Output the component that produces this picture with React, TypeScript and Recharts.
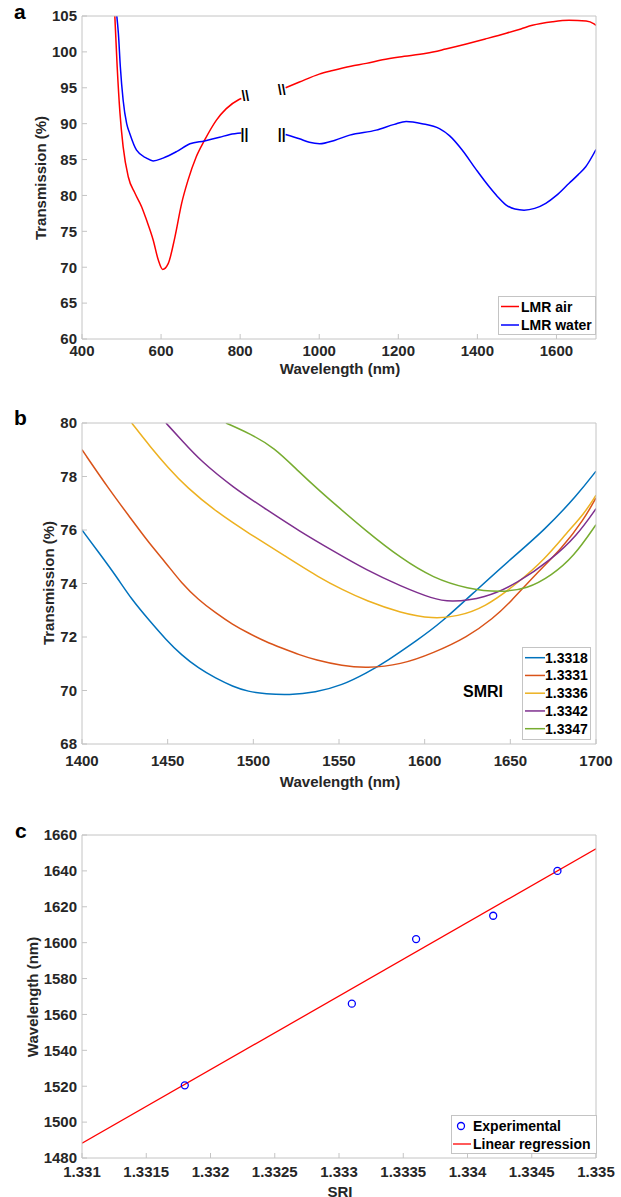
import React from 'react'
import { LineChart, ComposedChart, Line, Scatter, XAxis, YAxis, ReferenceDot } from 'recharts'

const FONT = '"Liberation Sans", Arial, Helvetica, sans-serif'
const INK = '#262626'
const FRAME = '#c4c4c4'

// ---- panel a: LMR spectra, wavelength (nm) vs transmission (%)
const aXTicks = [400, 600, 800, 1000, 1200, 1400, 1600]
const aYTicks = [60, 65, 70, 75, 80, 85, 90, 95, 100, 105]
const aNames = ['LMR air', 'LMR water']
const aColors = ['#ff0000', '#0000ff']

const airBelow900 = [
  [483, 105], [489, 97.9], [496, 91.5], [504, 86.8], [517, 82.6], [534, 80.3], [551, 78.4],
  [563, 76.6], [580, 73.8], [593, 71], [604, 69.7], [618, 70.5], [635, 74.2], [652, 78.9],
  [668, 82.1], [689, 85.4], [710, 87.7], [740, 90.5], [765, 92.1], [795, 93.3], [803, 93.5],
]
const airAbove900 = [
  [915, 95], [950, 95.8], [1000, 96.9], [1034, 97.4], [1080, 98], [1119, 98.4], [1160, 98.9],
  [1203, 99.3], [1271, 99.8], [1320, 100.4], [1372, 101.1], [1420, 101.8], [1473, 102.6],
  [1510, 103.2], [1539, 103.7], [1590, 104.2], [1632, 104.4], [1675, 104.3], [1695, 103.9],
  [1700, 103.7],
]
const waterBelow900 = [
  [488, 105], [492, 102.6], [497, 97.9], [504, 93.3], [513, 90], [521, 88.6], [538, 86.3],
  [563, 85.2], [580, 84.8], [605, 85.2], [639, 86.1], [673, 87.2], [710, 87.6], [748, 88.1],
  [774, 88.5], [803, 88.7],
]
const waterAbove900 = [
  [915, 88.5], [950, 87.9], [975, 87.4], [1001, 87.2], [1040, 87.7], [1077, 88.4], [1144, 89.1],
  [1190, 89.9], [1220, 90.3], [1260, 90], [1304, 89.3], [1330, 88.3], [1362, 86.3], [1397, 83.6],
  [1430, 81.2], [1450, 79.9], [1472, 78.7], [1495, 78.1], [1518, 77.95], [1545, 78.2],
  [1573, 78.9], [1600, 80], [1632, 81.7], [1655, 82.9], [1674, 84], [1700, 86.4],
]
// axis-break marks drawn on the curves
const breakMarks = [
  { x: 813, y: 93.8, text: '\\\\' },
  { x: 905, y: 94.7, text: '\\\\' },
  { x: 811, y: 88.6, text: '||' },
  { x: 905, y: 88.5, text: '||' },
]

// ---- panel b: spectra for each SMRI
const bXTicks = [1400, 1450, 1500, 1550, 1600, 1650, 1700]
const bYTicks = [68, 70, 72, 74, 76, 78, 80]
const bNames = ['1.3318', '1.3331', '1.3336', '1.3342', '1.3347']
const bColors = ['#0072bd', '#d95319', '#edb120', '#7e2f8e', '#77ac30']
const ri13318 = [
  [1400, 76], [1410, 75.14], [1420, 74.27], [1429, 73.4], [1439, 72.64], [1449, 71.9],
  [1458, 71.33], [1468, 70.83], [1478, 70.46], [1488, 70.15], [1497, 69.96], [1507, 69.87],
  [1521, 69.83], [1536, 69.92], [1552, 70.2], [1566, 70.65], [1578, 71.1], [1596, 71.9],
  [1609, 72.5], [1631, 73.8], [1650, 74.9], [1670, 76], [1689, 77.3], [1700, 78.2],
]
const ri13331 = [
  [1400, 79], [1416, 77.5], [1429, 76.39], [1439, 75.52], [1449, 74.77], [1458, 74.02],
  [1468, 73.39], [1478, 72.9], [1488, 72.46], [1497, 72.15], [1507, 71.83], [1517, 71.58],
  [1527, 71.33], [1536, 71.15], [1552, 70.92], [1566, 70.84], [1586, 70.96], [1605, 71.4],
  [1625, 72], [1640, 72.7], [1650, 73.3], [1664, 74.3], [1680, 75.3], [1693, 76.4], [1700, 77.2],
]
const ri13336 = [
  [1429, 80], [1440, 79.1], [1450, 78.35], [1461, 77.6], [1479, 76.65], [1498, 75.85],
  [1518, 75.05], [1539, 74.2], [1552, 73.77], [1566, 73.35], [1586, 72.9], [1605, 72.67],
  [1619, 72.77], [1635, 73.1], [1654, 74], [1670, 74.9], [1683, 75.9], [1693, 76.6], [1700, 77.3],
]
const ri13342 = [
  [1449, 80], [1459, 79.3], [1469, 78.6], [1488, 77.6], [1508, 76.75], [1527, 75.95],
  [1547, 75.2], [1566, 74.5], [1586, 73.9], [1605, 73.42], [1615, 73.3], [1635, 73.45],
  [1654, 74], [1674, 74.9], [1689, 75.8], [1700, 76.8],
]
const ri13347 = [
  [1484, 80], [1498, 79.6], [1512, 79.1], [1527, 78.15], [1539, 77.45], [1547, 77],
  [1566, 75.95], [1586, 74.95], [1605, 74.2], [1625, 73.8], [1644, 73.67], [1660, 73.8],
  [1674, 74.3], [1687, 75], [1700, 76.2],
]
const bSeries = [ri13318, ri13331, ri13336, ri13342, ri13347]

// ---- panel c: resonance wavelength vs SRI
const cXTicks = [1.331, 1.3315, 1.332, 1.3325, 1.333, 1.3335, 1.334, 1.3345, 1.335]
const cYTicks = [1480, 1500, 1520, 1540, 1560, 1580, 1600, 1620, 1640, 1660]
const sri = [1.3318, 1.3331, 1.3336, 1.3342, 1.3347]
const dipWavelength = [1520.5, 1566, 1602, 1615, 1640]
const fitLine = [[1.331, 1488.2], [1.335, 1652.3]]

const pts = (arr: number[][]) => arr.map(([x, y]) => ({ x, y }))

const TICK = { fill: INK, fontSize: 15, fontWeight: 700, fontFamily: FONT }
const LINE = { stroke: FRAME, strokeWidth: 1 }

function frame(xDomain: number[], xTicks: number[], yDomain: number[], yTicks: number[], xGap: number) {
  return [
    <XAxis key="xb" type="number" dataKey="x" domain={xDomain} ticks={xTicks} interval={0}
      allowDataOverflow height={31} axisLine={LINE} tickLine={LINE} tickSize={-5}
      tickMargin={xGap} tick={TICK} />,
    <XAxis key="xt" xAxisId="top" orientation="top" type="number" dataKey="x" domain={xDomain}
      ticks={xTicks} interval={0} allowDataOverflow height={1} axisLine={LINE} tickLine={LINE}
      tickSize={-5} tick={false} />,
    <YAxis key="yl" type="number" domain={yDomain} ticks={yTicks} interval={0} allowDataOverflow
      width={60} axisLine={LINE} tickLine={LINE} tickSize={-5} tickMargin={10} tick={TICK} />,
    <YAxis key="yr" yAxisId="right" orientation="right" type="number" domain={yDomain}
      ticks={yTicks} interval={0} allowDataOverflow width={1} axisLine={LINE} tickLine={LINE}
      tickSize={-5} tick={false} />,
  ]
}

const txt = { fill: INK, fontFamily: FONT, fontWeight: 700 } as const

function Overlay() {
  return (
    <svg width={621} height={1197} style={{ position: 'absolute', left: 0, top: 0, pointerEvents: 'none' }}>
      {/* panel letters */}
      <text x={14} y={19} fontSize={21} {...txt} fill="#000">a</text>
      <text x={14} y={425} fontSize={21} {...txt} fill="#000">b</text>
      <text x={15} y={838} fontSize={21} {...txt} fill="#000">c</text>

      {/* axis titles */}
      <text x={340} y={374} fontSize={15} textAnchor="middle" {...txt}>Wavelength (nm)</text>
      <text x={40} y={178} fontSize={15} textAnchor="middle" dominantBaseline="central"
        transform="rotate(-90 40 178)" {...txt}>Transmission (%)</text>
      <text x={340} y={787} fontSize={15} textAnchor="middle" {...txt}>Wavelength (nm)</text>
      <text x={48} y={583} fontSize={15} textAnchor="middle" dominantBaseline="central"
        transform="rotate(-90 48 583)" {...txt}>Transmission (%)</text>
      <text x={340} y={1197} fontSize={15} textAnchor="middle" {...txt}>SRI</text>
      <text x={32} y={997} fontSize={15} textAnchor="middle" dominantBaseline="central"
        transform="rotate(-90 32 997)" {...txt}>Wavelength (nm)</text>

      {/* legend a */}
      <rect x={498.5} y={296.5} width={97} height={38} fill="#fff" stroke={FRAME} />
      {aNames.map((n, i) => (
        <g key={n}>
          <line x1={501} x2={519} y1={306.5 + i * 18.5} y2={306.5 + i * 18.5} stroke={aColors[i]} strokeWidth={1.5} />
          <text x={521} y={311.5 + i * 18.5} fontSize={14} {...txt} fill="#000">{n}</text>
        </g>
      ))}

      {/* legend b */}
      <text x={483} y={691} fontSize={16} textAnchor="middle" dominantBaseline="central" {...txt} fill="#000">SMRI</text>
      <rect x={522.5} y={647.5} width={68} height={92} fill="#fff" stroke={FRAME} />
      {bNames.map((n, i) => (
        <g key={n}>
          <line x1={525} x2={545} y1={657.7 + i * 17.75} y2={657.7 + i * 17.75} stroke={bColors[i]} strokeWidth={1.5} />
          <text x={545} y={662.7 + i * 17.75} fontSize={14} {...txt} fill="#000">{n}</text>
        </g>
      ))}

      {/* legend c */}
      <rect x={451.5} y={1115.5} width={145} height={38} fill="#fff" stroke={FRAME} />
      <circle cx={461} cy={1126} r={3.5} fill="none" stroke="#0000ff" strokeWidth={1.3} />
      <text x={473} y={1131} fontSize={14} {...txt} fill="#000">Experimental</text>
      <line x1={453} x2={471} y1={1144} y2={1144} stroke="#ff0000" strokeWidth={1.3} />
      <text x={473} y={1149} fontSize={14} {...txt} fill="#000">Linear regression</text>
    </svg>
  )
}

const Ring = (p: any) => (
  <circle cx={p.cx} cy={p.cy} r={3.5} fill="none" stroke="#0000ff" strokeWidth={1.3} />
)

export default function App() {
  return (
    <div style={{ position: 'absolute', left: 0, top: 0, width: 621, height: 1197, background: '#fff', fontFamily: FONT }}>
      <div style={{ position: 'absolute', left: 0, top: 0 }}>
        <LineChart width={621} height={380} margin={{ top: 15, right: 24, bottom: 10, left: 22 }}>
          {frame([400, 1700], aXTicks, [60, 105], aYTicks, 11)}
          <Line data={pts(airBelow900)} dataKey="y" type="monotone" stroke={aColors[0]} strokeWidth={1.5} dot={false} isAnimationActive={false} />
          <Line data={pts(airAbove900)} dataKey="y" type="monotone" stroke={aColors[0]} strokeWidth={1.5} dot={false} isAnimationActive={false} />
          <Line data={pts(waterBelow900)} dataKey="y" type="monotone" stroke={aColors[1]} strokeWidth={1.5} dot={false} isAnimationActive={false} />
          <Line data={pts(waterAbove900)} dataKey="y" type="monotone" stroke={aColors[1]} strokeWidth={1.5} dot={false} isAnimationActive={false} />
          {breakMarks.map((m, i) => (
            <ReferenceDot key={i} x={m.x} y={m.y} r={0} fill="none" stroke="none"
              label={{ value: m.text, position: 'center', fill: '#000', fontSize: 14, fontWeight: 700, fontFamily: FONT }} />
          ))}
        </LineChart>
      </div>

      <div style={{ position: 'absolute', left: 0, top: 400 }}>
        <LineChart width={621} height={400} margin={{ top: 22, right: 24, bottom: 25, left: 22 }}>
          {frame([1400, 1700], bXTicks, [68, 80], bYTicks, 16)}
          {bSeries.map((s, i) => (
            <Line key={bNames[i]} name={bNames[i]} data={pts(s)} dataKey="y" type="basis"
              stroke={bColors[i]} strokeWidth={1.5} dot={false} isAnimationActive={false} />
          ))}
        </LineChart>
      </div>

      <div style={{ position: 'absolute', left: 0, top: 800 }}>
        <ComposedChart width={621} height={397} margin={{ top: 34, right: 24, bottom: 8, left: 22 }}>
          {frame([1.331, 1.335], cXTicks, [1480, 1660], cYTicks, 13)}
          <Line data={pts(fitLine)} dataKey="y" type="linear" stroke="#ff0000" strokeWidth={1.3}
            dot={false} isAnimationActive={false} />
          <Scatter data={sri.map((x, i) => ({ x, y: dipWavelength[i] }))} dataKey="y" shape={Ring}
            isAnimationActive={false} />
        </ComposedChart>
      </div>

      <Overlay />
    </div>
  )
}
